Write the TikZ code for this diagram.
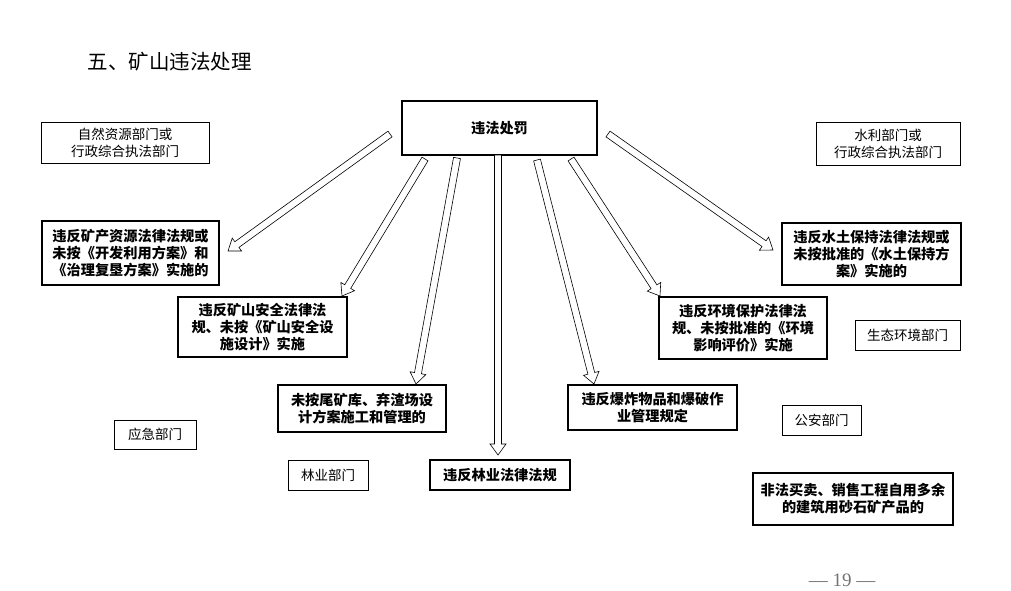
\documentclass[tikz,border=0pt]{standalone}
\usepackage{fontspec}
\setmainfont{Noto Sans CJK SC}
\newfontfamily\pagefont{Liberation Serif}
\usetikzlibrary{calc}
\tikzset{
  dept/.style={draw, line width=0.8pt, align=center, font=\fontsize{13.5}{17}\selectfont, inner sep=0pt},
  viol/.style={draw, line width=2pt, align=center, font=\fontsize{14.2}{17}\selectfont\bfseries, inner sep=0pt},
  harrow/.style={draw, line width=0.6pt, fill=white, line join=miter},
}
\newcommand\hollowarrow[2]{%
  \coordinate (hb) at ($(#2)!11pt!(#1)$);
  \draw[harrow] ($(#1)!3.5pt!90:(#2)$) -- ($(hb)!3.5pt!90:(#2)$) -- ($(hb)!8pt!90:(#2)$) -- (#2) -- ($(hb)!8pt!-90:(#2)$) -- ($(hb)!3.5pt!-90:(#2)$) -- ($(#1)!3.5pt!-90:(#2)$) -- cycle;
}
\begin{document}
\begin{tikzpicture}[x=1pt, y=-1pt]
\useasboundingbox (0,0) rectangle (1011,591);
\node[anchor=west, font=\fontsize{20.5}{24}\selectfont] (title) at (84,62) {五、矿山违法处理};

\node[viol, minimum width=195, minimum height=54] (pen) at (499.5,128) {违法处罚};

\node[dept, minimum width=168, minimum height=41] (zr) at (125,142.5) {自然资源部门或\\行政综合执法部门};
\node[dept, minimum width=144, minimum height=43] (sl) at (888,143.5) {水利部门或\\行政综合执法部门};
\node[dept, minimum width=105, minimum height=30] (sthj) at (907.5,335) {生态环境部门};
\node[dept, minimum width=79, minimum height=30] (ga) at (821.5,420) {公安部门};
\node[dept, minimum width=82, minimum height=29] (yj) at (155,434.5) {应急部门};
\node[dept, minimum width=80, minimum height=30] (ly) at (328,475) {林业部门};

\node[viol, minimum width=177, minimum height=64] (kc) at (130.5,253) {违反矿产资源法律法规或\\未按《开发利用方案》和\\《治理复垦方案》实施的};
\node[viol, minimum width=169, minimum height=60] (aq) at (262.5,327) {违反矿山安全法律法\\规、未按《矿山安全设\\施设计》实施};
\node[viol, minimum width=179, minimum height=62] (st) at (871.5,254) {违反水土保持法律法规或\\未按批准的《水土保持方\\案》实施的};
\node[viol, minimum width=168, minimum height=62] (hj) at (743,328) {违反环境保护法律法\\规、未按批准的《环境\\影响评价》实施};
\node[viol, minimum width=168, minimum height=47] (wk) at (362,408.5) {未按尾矿库、弃渣场设\\计方案施工和管理的};
\node[viol, minimum width=169, minimum height=45] (bz) at (652.5,407.5) {违反爆炸物品和爆破作\\业管理规定};
\node[viol, minimum width=140, minimum height=30] (lf) at (500,475) {违反林业法律法规};
\node[viol, minimum width=200, minimum height=52] (ff) at (853,499) {非法买卖、销售工程自用多余\\的建筑用砂石矿产品的};

\node[font=\pagefont\fontsize{19}{22}\selectfont, text=black!55] (pg) at (842,580) {— 19 —};

\coordinate (t1) at (390,134); \coordinate (h1) at (228,251);
\coordinate (t2) at (425,159); \coordinate (h2) at (342,296);
\coordinate (t3) at (457,158); \coordinate (h3) at (416,384);
\coordinate (t4) at (498,155); \coordinate (h4) at (498,455);
\coordinate (t5) at (537,160); \coordinate (h5) at (594,384);
\coordinate (t6) at (571,159); \coordinate (h6) at (660,296);
\coordinate (t7) at (608,134); \coordinate (h7) at (773,250);

\hollowarrow{t1}{h1}
\hollowarrow{t2}{h2}
\hollowarrow{t3}{h3}
\hollowarrow{t4}{h4}
\hollowarrow{t5}{h5}
\hollowarrow{t6}{h6}
\hollowarrow{t7}{h7}
\end{tikzpicture}
\end{document}
